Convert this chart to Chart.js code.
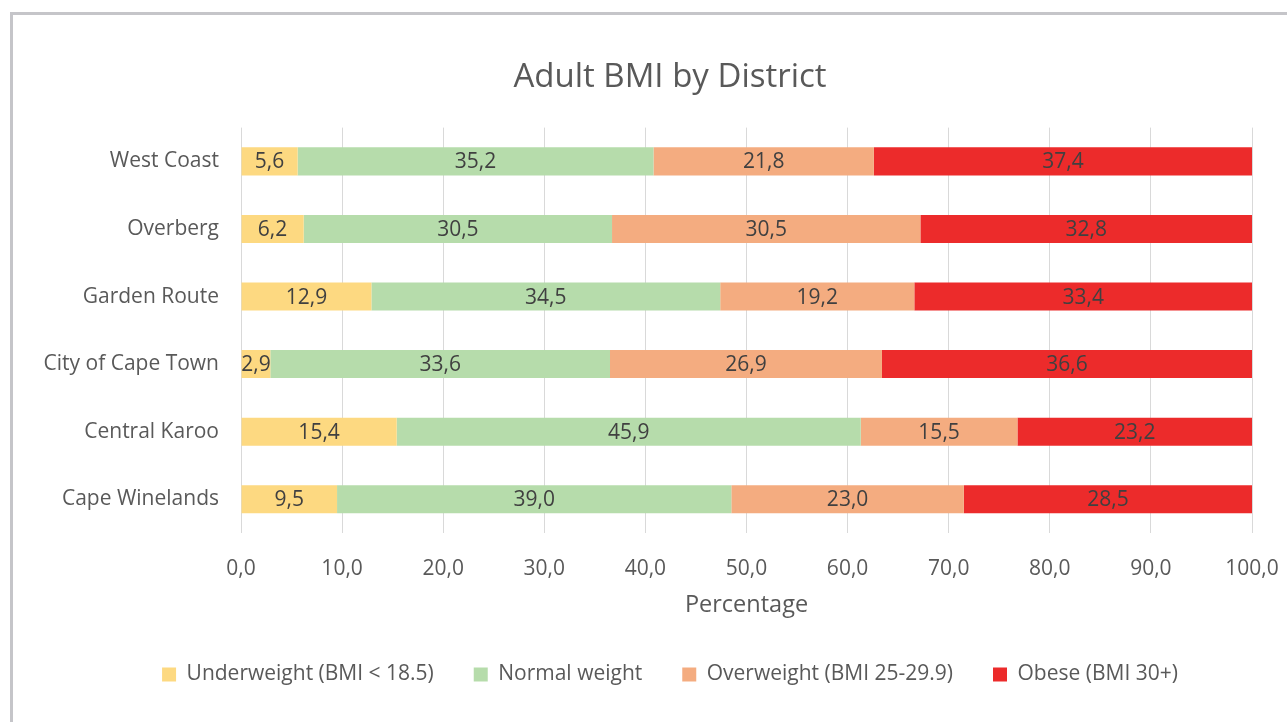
<!DOCTYPE html>
<html>
<head>
<meta charset="utf-8">
<script src="https://cdn.jsdelivr.net/npm/chart.js@4.4.1/dist/chart.umd.min.js"></script>
<style>
  html, body { margin: 0; padding: 0; background: #fff; overflow: hidden; width: 1287px; height: 722px; }
  #wrap { position: absolute; left: 0; top: 0; width: 1340px; height: 730px; }
</style>
</head>
<body>
<div id="wrap"><canvas id="chart"></canvas></div>
<script>
// Districts, top to bottom
const districts = ['West Coast', 'Overberg', 'Garden Route', 'City of Cape Town', 'Central Karoo', 'Cape Winelands'];

// Share of adults (%) per BMI class
const underweight = [5.6, 6.2, 12.9, 2.9, 15.4, 9.5];
const normalWeight = [35.2, 30.5, 34.5, 33.6, 45.9, 39.0];
const overweight = [21.8, 30.5, 19.2, 26.9, 15.5, 23.0];
const obese = [37.4, 32.8, 33.4, 36.6, 23.2, 28.5];

const seriesNames = ['Underweight (BMI < 18.5)', 'Normal weight', 'Overweight (BMI 25-29.9)', 'Obese (BMI 30+)'];
const seriesColors = ['#fdd981', '#b6dcab', '#f4ac80', '#ec2b2b'];

const FONT = "'Open Sans', 'Noto Sans', sans-serif";
const fmt = v => v.toFixed(1).replace('.', ',');

// Outer frame of the figure
const framePlugin = {
  id: 'frame',
  beforeDraw(chart) {
    const ctx = chart.ctx;
    ctx.save();
    ctx.fillStyle = '#ffffff';
    ctx.fillRect(0, 0, chart.width, chart.height);
    ctx.fillStyle = '#c5c5c9';
    ctx.fillRect(10, 12, 3, chart.height - 12);
    ctx.fillRect(10, 12, chart.width - 10, 3);
    ctx.restore();
  }
};

// Value labels centred in each segment
const valueLabels = {
  id: 'valueLabels',
  afterDatasetsDraw(chart) {
    const ctx = chart.ctx;
    ctx.save();
    ctx.font = `21px ${FONT}`;
    ctx.textAlign = 'center';
    ctx.textBaseline = 'middle';
    ctx.fillStyle = '#404040';
    chart.data.datasets.forEach((ds, i) => {
      const meta = chart.getDatasetMeta(i);
      meta.data.forEach((bar, j) => {
        const cx = (bar.x + bar.base) / 2;
        ctx.fillText(fmt(ds.data[j]), cx, bar.y + 1);
      });
    });
    ctx.restore();
  }
};

new Chart(document.getElementById('chart'), {
  type: 'bar',
  data: {
    labels: districts,
    datasets: [underweight, normalWeight, overweight, obese].map((d, i) => ({
      label: seriesNames[i],
      data: d,
      backgroundColor: seriesColors[i],
      borderWidth: 0,
      barPercentage: 0.415,
      categoryPercentage: 1
    }))
  },
  options: {
    indexAxis: 'y',
    responsive: true,
    maintainAspectRatio: false,
    animation: false,
    layout: { padding: { top: 58, left: 0, right: 0, bottom: 35 } },
    plugins: {
      title: {
        display: true,
        text: 'Adult BMI by District',
        color: '#595959',
        font: { family: FONT, size: 33, weight: 'normal' },
        padding: { top: 0, bottom: 30 }
      },
      legend: {
        position: 'bottom',
        labels: {
          color: '#595959',
          font: { family: FONT, size: 21 },
          boxWidth: 14,
          boxHeight: 14,
          padding: 40
        }
      },
      tooltip: { enabled: false }
    },
    scales: {
      x: {
        stacked: true,
        min: 0,
        max: 100,
        ticks: {
          stepSize: 10,
          maxRotation: 0,
          color: '#595959',
          font: { family: FONT, size: 21 },
          padding: 23,
          callback: v => fmt(v)
        },
        grid: { color: '#d9d9d9', lineWidth: 1, drawTicks: false },
        border: { display: false },
        title: {
          display: true,
          text: 'Percentage',
          color: '#595959',
          font: { family: FONT, size: 23.5 },
          padding: { top: 8, bottom: 5 }
        },
        afterFit: s => { s.height = 91; }
      },
      y: {
        stacked: true,
        ticks: {
          color: '#595959',
          font: { family: FONT, size: 21 },
          padding: 22
        },
        grid: { display: false, drawTicks: false },
        border: { display: false },
        afterFit: s => { s.width = 241; }
      },
      // empty right-hand margin so the title and legend stay centred on the figure
      yRight: {
        type: 'category',
        position: 'right',
        ticks: { display: false },
        grid: { display: false, drawTicks: false },
        border: { display: false },
        afterFit: s => { s.width = 88; }
      }
    }
  },
  plugins: [framePlugin, valueLabels]
});
</script>
</body>
</html>
